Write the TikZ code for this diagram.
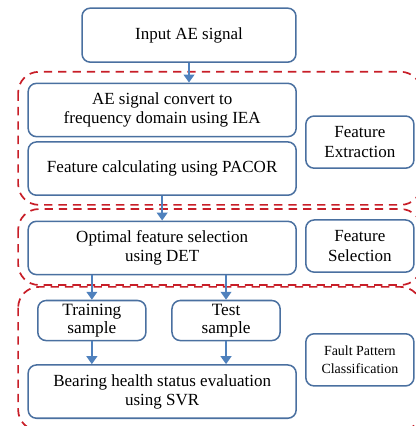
\documentclass[tikz,border=0pt]{standalone}
\usepackage{xcolor}
\usepackage{tikz}
\usepackage{fontspec}
\setmainfont{Liberation Serif}
\usetikzlibrary{positioning, arrows.meta, calc}
\definecolor{boxblue}{RGB}{74, 112, 160}
\definecolor{arrowblue}{RGB}{79, 129, 189}
\definecolor{dashred}{RGB}{200, 30, 40}

\tikzset{
    stage/.style={draw=boxblue, line width=0.4mm, rounded corners=0.22cm, fill=white, align=center, font=\fontsize{12.8}{14.5}\selectfont},
    wide/.style={stage, minimum width=7.09cm, minimum height=1.41cm},
    sample/.style={stage, minimum width=2.86cm, minimum height=1.06cm, inner sep=2pt, font=\fontsize{13}{14}\selectfont},
    tag/.style={stage, minimum width=2.86cm, minimum height=1.38cm},
    flow/.style={-{Triangle[width=8pt, length=6pt]}, arrowblue, line width=0.65mm},
    region/.style={dashred, line width=0.45mm, dash pattern=on 2.2mm off 1.6mm, rounded corners=0.55cm}
}

\begin{document}
\begin{tikzpicture}[]
    \useasboundingbox (0,0) rectangle (11.005cm,11.27cm);

    % grouping frames
    \draw[region] (0.48cm, 9.37cm) rectangle (11.15cm, 5.85cm);
    \draw[region] (0.48cm, 5.74cm) rectangle (11.15cm, 3.73cm);
    \draw[region] (0.48cm, 3.68cm) rectangle (11.15cm, -0.12cm);

    % processing steps
    \node[stage, minimum width=5.66cm, minimum height=1.43cm] (input) at (5.0cm, 10.34cm) {Input AE signal};
    \node[wide] (convert) at (4.29cm, 8.36cm) {AE signal convert to\\frequency domain using IEA};
    \node[wide] (pacor) at (4.29cm, 6.81cm) {Feature calculating using PACOR};
    \node[wide] (optimal) at (4.29cm, 4.71cm) {Optimal feature selection\\using DET};
    \node[sample] (training) at (2.43cm, 2.79cm) {Training\\sample};
    \node[sample] (test) at (5.98cm, 2.79cm) {Test\\sample};
    \node[wide] (svr) at (4.29cm, 0.91cm) {Bearing health status evaluation\\using SVR};

    % stage names on the right
    \node[tag] (extraction) at (9.52cm, 7.51cm) {Feature\\Extraction};
    \node[tag] (selection) at (9.52cm, 4.76cm) {Feature\\Selection};
    \node[tag, font=\fontsize{10.5}{13}\selectfont] (classify) at (9.52cm, 1.75cm) {Fault Pattern\\Classification};

    \draw[flow] (input) -- (input |- convert.north);
    \draw[flow] (pacor) -- (optimal);
    \draw[flow] (training.north |- optimal.south) -- (training.north);
    \draw[flow] (test.north |- optimal.south) -- (test.north);
    \draw[flow] (training.south) -- (training.south |- svr.north);
    \draw[flow] (test.south) -- (test.south |- svr.north);
\end{tikzpicture}
\end{document}
